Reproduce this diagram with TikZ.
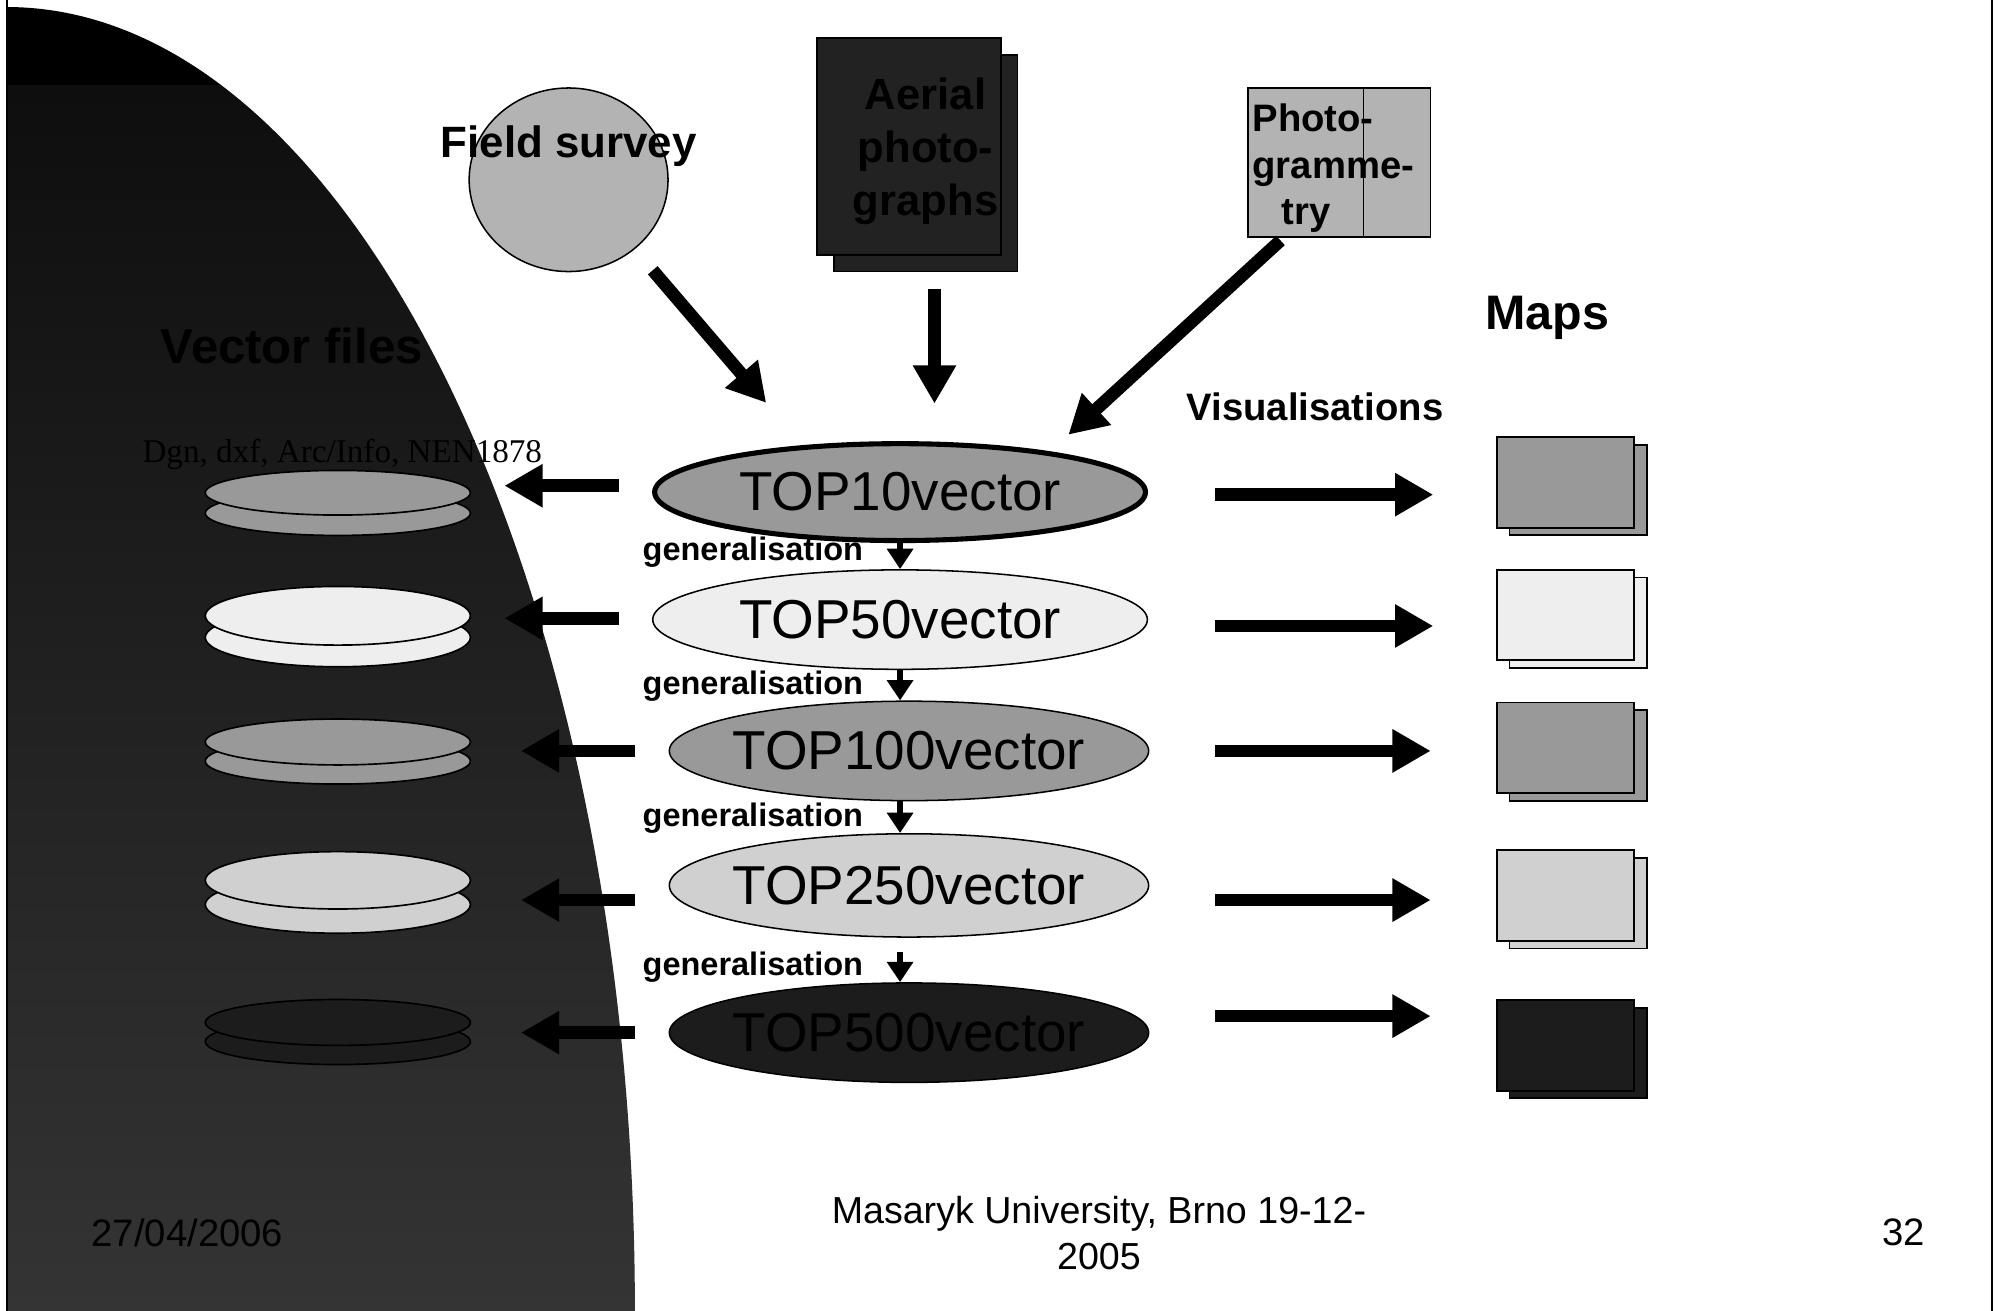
\documentclass[tikz,border=0pt]{standalone}
\usepackage{fontspec}
\setmainfont{Liberation Sans}
\newfontfamily\timesf{Liberation Serif}
\usetikzlibrary{shapes.geometric,arrows.meta,calc}
\definecolor{gA}{HTML}{999999}
\definecolor{gB}{HTML}{EEEEEE}
\definecolor{gC}{HTML}{D0D0D0}
\definecolor{gD}{HTML}{1C1C1C}
\definecolor{gE}{HTML}{B3B3B3}
\definecolor{gF}{HTML}{222222}
\definecolor{shadetop}{HTML}{0E0E0E}
\definecolor{shadebot}{HTML}{343434}
\newcommand\fsz[2]{\fontsize{#1pt}{#2pt}\selectfont}
\begin{document}
\begin{tikzpicture}[x=1pt,y=-1pt,
  disk/.style={ellipse, draw, line width=1.3pt, minimum width=208pt, inner sep=0pt},
  topv/.style={ellipse, draw, line width=1.2pt, inner sep=0pt},
  topfont/.style={font=\fsz{43}{50}},
  mapr/.style={rectangle, draw, line width=1.5pt, minimum width=108pt, minimum height=71pt, inner sep=0pt},
  bigarrow/.style={line width=10pt, -{Triangle[length=30pt,width=32pt]}},
  genarrow/.style={line width=5pt, -{Triangle[length=16pt,width=20pt]}},
  genlabel/.style={font=\bfseries\fsz{25.5}{30}, anchor=base east},
  boxnode/.style={rectangle, draw, line width=1.2pt, inner sep=0pt},
]
\useasboundingbox (0,0) rectangle (1568,1028);
\fill[white] (0,0) rectangle (1568,1028);

% dark background shape
\begin{scope}
  \clip (5,1028) ellipse [x radius=493, y radius=1022.5];
  \fill[black] (5.5,0) rectangle (500,67);
  \shade[top color=shadetop, bottom color=shadebot] (5.5,67) rectangle (500,1028);
\end{scope}

% frame lines
\draw[line width=1.6pt] (5.5,0) -- (5.5,1028);
\draw[line width=1.6pt] (1562.5,0) -- (1562.5,1028);

% left titles
\node[font=\bfseries\fsz{38.5}{44}] (vf) at (229,271) {Vector files};
\node[font=\timesf\fsz{26}{30}] (dgn) at (268.5,356.5) {Dgn, dxf, Arc/Info, NEN1878};

% disks
\node[disk, fill=gA, minimum height=35pt] (d1b) at (265,402.5) {};
\node[disk, fill=gA, minimum height=35pt] (d1t) at (265,386.5) {};
\node[disk, fill=gB, minimum height=46pt] (d2b) at (265,500) {};
\node[disk, fill=gB, minimum height=46pt] (d2t) at (265,483) {};
\node[disk, fill=gA, minimum height=36pt] (d3b) at (265,597) {};
\node[disk, fill=gA, minimum height=36pt] (d3t) at (265,582) {};
\node[disk, fill=gC, minimum height=45pt] (d4b) at (265,709.5) {};
\node[disk, fill=gC, minimum height=45pt] (d4t) at (265,690.5) {};
\node[disk, fill=gD, minimum height=36pt] (d5b) at (265,817) {};
\node[disk, fill=gD, minimum height=36pt] (d5t) at (265,802) {};

% sources
\node[ellipse, draw, line width=1.2pt, fill=gE, minimum width=156pt, minimum height=144pt, inner sep=0pt] (fs) at (446,141) {};
\node[font=\bfseries\fsz{34.4}{40}] (fst) at (446,114.5) {Field survey};

\node[boxnode, fill=gF, minimum width=144pt, minimum height=170pt] (ab) at (726,128) {};
\node[boxnode, fill=gF, minimum width=144pt, minimum height=170pt] (af) at (713,115) {};
\node[font=\bfseries\fsz{34.2}{41.5}, align=center] (aet) at (726,119) {Aerial\\photo-\\graphs};

\node[boxnode, fill=gE, minimum width=143pt, minimum height=117pt] (pg) at (1050.5,127.5) {};
\draw[line width=1.2pt] ($(pg.north west)+(91,0)$) -- ($(pg.south west)+(91,0)$);
\node[font=\bfseries\fsz{30}{36.5}, align=left, anchor=west] (pgt) at (979,132) {Photo-\\gramme-\\\hspace*{23pt}try};

% TOP ellipses
\node[topv, fill=gA, line width=4pt, minimum width=385pt, minimum height=76pt,
      label={[topfont]center:TOP10vector}] (t10) at (706,386) {};
\node[topv, fill=gB, minimum width=388pt, minimum height=78pt,
      label={[topfont]center:TOP50vector}] (t50) at (706,486) {};
\node[topv, fill=gA, minimum width=376pt, minimum height=78pt,
      label={[topfont]center:TOP100vector}] (t100) at (713,589) {};
\node[topv, fill=gC, minimum width=376pt, minimum height=81pt,
      label={[topfont]center:TOP250vector}] (t250) at (713,694.5) {};
\node[topv, fill=gD, minimum width=376pt, minimum height=78pt,
      label={[topfont]center:TOP500vector}] (t500) at (713,810) {};

% arrows into TOP10
\draw[bigarrow] ($(fs.center)+(66,71)$) -- ($(t10.north)+(-105,-30)$);
\draw[bigarrow] ($(ab.south)+(7,13)$) -- ($(ab.south)+(7,103)$);
\draw[bigarrow] ($(pg.south west)+(26,2)$) -- ($(t10.north)+(132,-5)$);

% generalisation arrows
\draw[genarrow] (t10.south) -- (t50.north);
\draw[genarrow] (t50.south) -- (t50.south |- t100.north);
\draw[genarrow] (t100.south -| t50.south) -- (t250.north -| t50.south);
\draw[genarrow, shorten <=11pt] (t250.south -| t50.south) -- (t500.north -| t50.south);

\node[genlabel] (gl1) at (680.5,440) {generalisation};
\node[genlabel] (gl2) at (680.5,545) {generalisation};
\node[genlabel] (gl3) at (680.5,648) {generalisation};
\node[genlabel] (gl4) at (680.5,765) {generalisation};

% left arrows to vector files
\draw[bigarrow] ($(t10.west)+(-26,-5)$) -- ($(t10.west -| d1t.east)+(26,-5)$);
\draw[bigarrow] ($(t50.west)+(-26,-1)$) -- ($(t50.west -| d2t.east)+(26,-1)$);
\draw[bigarrow] ($(t100.west)+(-26,0)$) -- ($(t100.west -| d3t.east)+(39,0)$);
\draw[bigarrow] ($(t250.west)+(-26,11.5)$) -- ($(t250.west -| d4t.east)+(39,11.5)$);
\draw[bigarrow] ($(t500.west)+(-26,0)$) -- ($(t500.west -| d5t.east)+(39,0)$);

% maps
\node[font=\bfseries\fsz{38}{44}] (maps) at (1213.5,249) {Maps};
\node[font=\bfseries\fsz{30}{36}] (vis) at (1031.5,319) {Visualisations};

\node[mapr, fill=gA] (m1b) at (1238,384.5) {};
\node[mapr, fill=gA] (m1f) at (1228,378.5) {};
\node[mapr, fill=gB] (m2b) at (1238,488.5) {};
\node[mapr, fill=gB] (m2f) at (1228,482.5) {};
\node[mapr, fill=gA] (m3b) at (1238,592.5) {};
\node[mapr, fill=gA] (m3f) at (1228,586.5) {};
\node[mapr, fill=gC] (m4b) at (1238,708.5) {};
\node[mapr, fill=gC] (m4f) at (1228,702.5) {};
\node[mapr, fill=gD] (m5b) at (1238,826) {};
\node[mapr, fill=gD] (m5f) at (1228,820) {};

% right arrows to maps
\draw[bigarrow] ($(t10.east)+(52.5,2)$) -- ($(t10.east -| m1f.west)+(-49,2)$);
\draw[bigarrow] ($(t50.east)+(52.5,5)$) -- ($(t50.east -| m2f.west)+(-49,5)$);
\draw[bigarrow] ($(t100.east)+(51.5,0)$) -- ($(t100.east -| m3f.west)+(-51,0)$);
\draw[bigarrow] ($(t250.east)+(51.5,11.5)$) -- ($(t250.east -| m4f.west)+(-51,11.5)$);
\draw[bigarrow] ($(t500.east)+(51.5,-13)$) -- ($(t500.east -| m5f.west)+(-51,-13)$);

% footer
\node[font=\fsz{30}{36}] (date) at (147,967) {27/04/2006};
\node[font=\fsz{29.5}{36}, align=center] (venue) at (862,967) {Masaryk University, Brno 19-12-\\2005};
\node[font=\fsz{30}{36}] (pnum) at (1493,967) {32};
\end{tikzpicture}
\end{document}
